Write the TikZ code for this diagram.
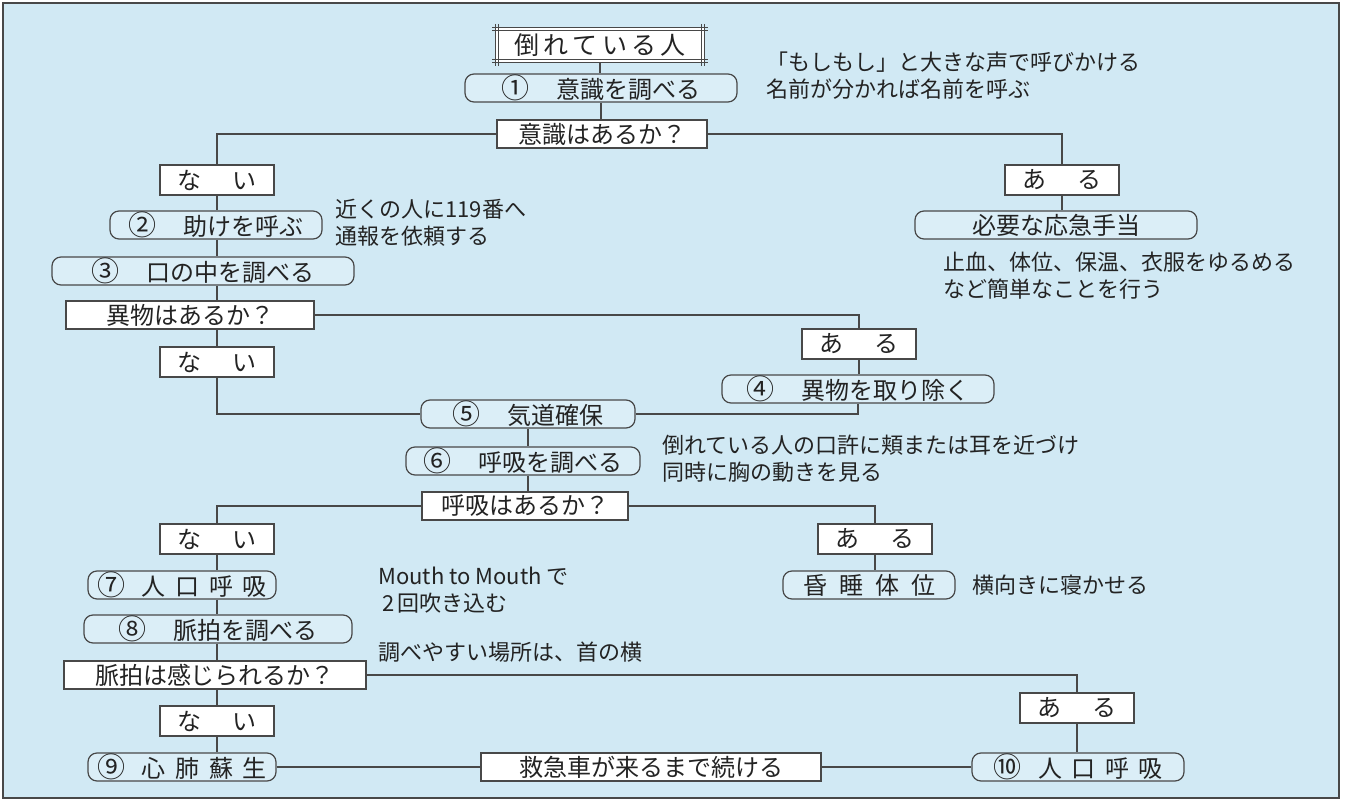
\documentclass[tikz,border=0pt]{standalone}
\usepackage{fontspec}
\setmainfont{Noto Sans CJK JP}
\usepackage{xcolor}
\usetikzlibrary{positioning,calc}
\definecolor{panel}{RGB}{209,233,244}
\definecolor{capsule}{RGB}{219,238,247}
\definecolor{wire}{RGB}{72,72,72}
\definecolor{ink}{RGB}{35,35,35}
\newcommand{\circnum}[1]{{\fontsize{14}{14}\selectfont #1}}

\begin{document}
\begin{tikzpicture}[
    x=0.5pt,y=-0.5pt,
    every node/.style={text=ink},
    wirel/.style={draw=wire,line width=0.55pt},
    qbox/.style={draw=wire,fill=white,line width=0.6pt,minimum height=14pt,
      inner sep=0pt,font=\fontsize{12}{12}\selectfont},
    abox/.style={qbox,minimum width=57pt,minimum height=15pt},
    capbox/.style={draw=wire,fill=capsule,line width=0.6pt,rounded corners=4.5pt,
      minimum height=14pt,inner sep=0pt,font=\fontsize{12}{12}\selectfont},
    headbox/.style={fill=white,minimum width=104pt,minimum height=17pt,
      inner sep=0pt,font=\fontsize{12.5}{12.5}\selectfont},
    memo/.style={anchor=west,inner sep=0pt,align=left,
      font=\fontsize{11}{13.5}\selectfont}
  ]
    \useasboundingbox (0,0) rectangle (1346,802);
    \fill[white] (0,0) rectangle (1346,802);
    \draw[draw=wire,fill=panel,line width=0.6pt] (3,3) rectangle (1339,798);

    % title
    \node[headbox] (victim) at (600,45) {倒\,れ\,て\,い\,る\,人};
    \foreach \g in {0pt,1.6pt}{
      \draw[wirel,line width=0.45pt] ([shift={(-1.8pt,-\g)}]victim.north west) -- ([shift={(1.8pt,-\g)}]victim.north east);
      \draw[wirel,line width=0.45pt] ([shift={(-1.8pt,\g)}]victim.south west) -- ([shift={(1.8pt,\g)}]victim.south east);
      \draw[wirel,line width=0.45pt] ([shift={(\g,1.8pt)}]victim.north west) -- ([shift={(\g,-1.8pt)}]victim.south west);
      \draw[wirel,line width=0.45pt] ([shift={(-\g,1.8pt)}]victim.north east) -- ([shift={(-\g,-1.8pt)}]victim.south east);
    }

    % consciousness
    \node[capbox,minimum width=136pt] (check) at (601,88) {\circnum{①}\hspace{1.1em}意識を調べる};
    \node[qbox,minimum width=105pt] (ask1) at (602,134) {意識はあるか？};
    \node[abox] (no1) at (217,180) {な\hspace{1.3em}い};
    \node[abox] (yes1) at (1062,180) {あ\hspace{1.3em}る};
    \node[capbox,minimum width=141pt] (aid) at (1056,225) {必要な応急手当};
    \node[capbox,minimum width=106pt] (help) at (216,225) {\circnum{②}\hspace{1.1em}助けを呼ぶ};
    \node[capbox,minimum width=151pt] (mouth) at (203,271) {\circnum{③}\hspace{1.1em}口の中を調べる};

    % foreign body
    \node[qbox,minimum width=124pt] (ask2) at (190,315) {異物はあるか？};
    \node[abox] (no2) at (217,362) {な\hspace{1.3em}い};
    \node[abox] (yes2) at (859,344) {あ\hspace{1.3em}る};
    \node[capbox,minimum width=136pt] (remove) at (858,389) {\circnum{④}\hspace{1.1em}異物を取り除く};
    \node[capbox,minimum width=107pt] (airway) at (528,414) {\circnum{⑤}\hspace{1.1em}気道確保};

    % breathing
    \node[capbox,minimum width=117pt] (breath) at (523,461) {\circnum{⑥}\hspace{1.1em}呼吸を調べる};
    \node[qbox,minimum width=103pt] (ask3) at (525,506) {呼吸はあるか？};
    \node[abox] (no3) at (217,539) {な\hspace{1.3em}い};
    \node[abox] (yes3) at (875,539) {あ\hspace{1.3em}る};
    \node[capbox,minimum width=94pt] (rescue1) at (182,585) {\circnum{⑦}\hspace{0.7em}人\hspace{0.4em}口\hspace{0.4em}呼\hspace{0.4em}吸};
    \node[capbox,minimum width=86pt] (coma) at (869,585) {昏\hspace{0.5em}睡\hspace{0.5em}体\hspace{0.5em}位};

    % pulse
    \node[capbox,minimum width=134pt] (pulse) at (218,629) {\circnum{⑧}\hspace{1.1em}脈拍を調べる};
    \node[qbox,minimum width=151pt] (ask4) at (215,675) {脈拍は感じられるか？};
    \node[abox] (no4) at (217,721) {な\hspace{1.3em}い};
    \node[abox] (yes4) at (1077,708) {あ\hspace{1.3em}る};
    \node[capbox,minimum width=94pt] (cpr) at (182,767) {\circnum{⑨}\hspace{0.7em}心\hspace{0.4em}肺\hspace{0.4em}蘇\hspace{0.4em}生};
    \node[qbox,minimum width=170pt] (until) at (651,767) {救急車が来るまで続ける};
    \node[capbox,minimum width=106pt] (rescue2) at (1078,767) {\circnum{⑩}\hspace{0.7em}人\hspace{0.4em}口\hspace{0.4em}呼\hspace{0.4em}吸};

    % notes
    \node[memo] (memo1) at (766,76) {「もしもし」と大きな声で呼びかける\\名前が分かれば名前を呼ぶ};
    \node[memo] (memo2) at (335,223) {近くの人に119番へ\\通報を依頼する};
    \node[memo] (memo3) at (943,276) {止血、体位、保温、衣服をゆるめる\\など簡単なことを行う};
    \node[memo] (memo4) at (662,459) {倒れている人の口許に頬または耳を近づけ\\同時に胸の動きを見る};
    \node[memo] (memo5) at (378,590) {Mouth to Mouth で\\\,2\,回吹き込む};
    \node[memo] (memo6) at (972,585) {横向きに寝かせる};
    \node[memo] (memo7) at (378,652) {調べやすい場所は、首の横};

    % connectors
    \draw[wirel] (victim.south) -- (victim.south |- check.north);
    \draw[wirel] (check.south) -- (check.south |- ask1.north);
    \draw[wirel] (ask1.west) -| (no1.north);
    \draw[wirel] (ask1.east) -| (yes1.north);
    \draw[wirel] (yes1.south) -- (yes1.south |- aid.north);
    \draw[wirel] (no1.south) -- (no1.south |- help.north);
    \draw[wirel] (no1.south |- help.south) -- (no1.south |- mouth.north);
    \draw[wirel] (no1.south |- mouth.south) -- (no1.south |- ask2.north);
    \draw[wirel] (no2.north |- ask2.south) -- (no2.north);
    \draw[wirel] (ask2.east) -| (yes2.north);
    \draw[wirel] (yes2.south) -- (yes2.south |- remove.north);
    \draw[wirel] (no2.south) |- (airway.west);
    \draw[wirel] (airway.east) -| (remove.south);
    \draw[wirel] (airway.south) -- (airway.south |- breath.north);
    \draw[wirel] (airway.south |- breath.south) -- (airway.south |- ask3.north);
    \draw[wirel] (ask3.west) -| (no3.north);
    \draw[wirel] (ask3.east) -| (yes3.north);
    \draw[wirel] (yes3.south) -- (yes3.south |- coma.north);
    \draw[wirel] (no3.south) -- (no3.south |- rescue1.north);
    \draw[wirel] (no3.south |- rescue1.south) -- (no3.south |- pulse.north);
    \draw[wirel] (no3.south |- pulse.south) -- (no3.south |- ask4.north);
    \draw[wirel] (no4.north |- ask4.south) -- (no4.north);
    \draw[wirel] (no4.south) -- (no4.south |- cpr.north);
    \draw[wirel] (ask4.east) -| (yes4.north);
    \draw[wirel] (yes4.south) -- (yes4.south |- rescue2.north);
    \draw[wirel] (cpr) -- (until);
    \draw[wirel] (until) -- (rescue2);
  \end{tikzpicture}
\end{document}
